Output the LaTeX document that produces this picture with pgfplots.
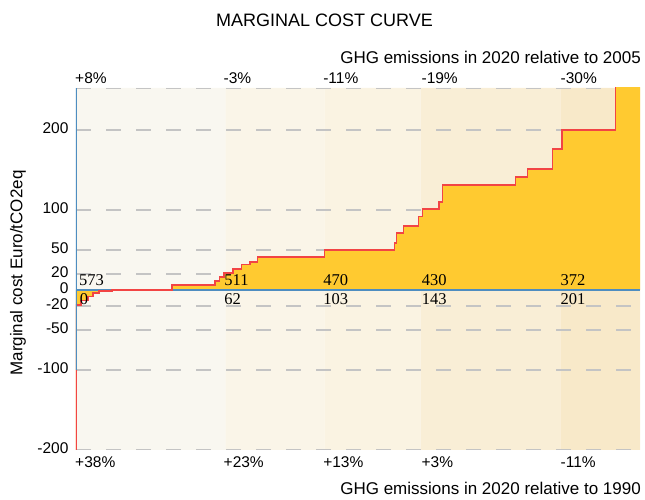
\documentclass[border=0pt]{standalone}
\usepackage{fontspec}
\setmainfont{Liberation Sans}
\newfontfamily\numfont{Liberation Serif}
\usepackage{pgfplots}
\pgfplotsset{compat=1.18}
\definecolor{bandA}{HTML}{F9F7F0}
\definecolor{bandB}{HTML}{FAF5E8}
\definecolor{bandC}{HTML}{FAF3E2}
\definecolor{bandD}{HTML}{F9EED6}
\definecolor{bandE}{HTML}{F8E9C9}
\definecolor{gold}{HTML}{FFCA30}
\definecolor{curvered}{HTML}{F24444}
\definecolor{axblue}{HTML}{4E8DC0}
\definecolor{gridgray}{HTML}{C4C4C4}
\newcommand{\tickfont}{\fontsize{15.5}{18}\selectfont}
\newcommand{\inner}{\numfont\fontsize{16.5}{18}\selectfont}
\pgfplotstableread{
x y
0 -200
0 -19
2.1 -13
5.0 -8
7.1 -4
9.6 -1.5
15.0 0
39.8 6
57.7 11
59.5 16
61.5 21
65.2 26
68.6 32
72.1 35
75.2 41
103.0 50
132.1 59
132.9 71
135.8 80
142.0 92
143.7 101
150.7 110
152.0 131
182.3 141
187.3 151
197.7 176
201.6 200
223.8 320
240 320
}\curvedata
\begin{document}
\begin{tikzpicture}
\path[use as bounding box] (0,0) rectangle (645pt,500pt);
\begin{axis}[
  at={(76pt,50pt)}, anchor=south west,
  scale only axis, width=564pt, height=362pt,
  xmin=0, xmax=234, ymin=-200, ymax=252.5,
  clip mode=individual,
  axis line style={draw=none},
  xtick=\empty,
  ytick={-200,-100,-50,-20,0,20,50,100,200},
  yticklabels={-200,-100,-50,-20,0,20,50,100,200},
  major tick length=0pt, tick style={draw=none},
  yticklabel style={font=\tickfont, xshift=-4pt, yshift=2pt},
]
% background bands
\addplot[fill=bandA, draw=none] coordinates {(0,-200) (62,-200) (62,252.5) (0,252.5) (0,-200)};
\addplot[fill=bandB, draw=none] coordinates {(62,-200) (103,-200) (103,252.5) (62,252.5) (62,-200)};
\addplot[fill=bandC, draw=none] coordinates {(103,-200) (143,-200) (143,252.5) (103,252.5) (103,-200)};
\addplot[fill=bandD, draw=none] coordinates {(143,-200) (201,-200) (201,252.5) (143,252.5) (143,-200)};
\addplot[fill=bandE, draw=none] coordinates {(201,-200) (234,-200) (234,252.5) (201,252.5) (201,-200)};
% dashed grid
\pgfplotsinvokeforeach{252,200,100,50,20,-20,-50,-100,-199.5}{
  \addplot[gridgray, line width=1.2pt, dash pattern=on 15pt off 15pt] coordinates {(0,#1) (234,#1)};
}
% filled area
\addplot[const plot, fill=gold, draw=none] table[x=x,y=y] {\curvedata} \closedcycle;
% horizontal axis line
\addplot[axblue, line width=1.3pt] coordinates {(0,0) (234,0)};
% cost curve
\addplot[const plot, curvered, line width=1.5pt] table[x=x,y=y] {\curvedata};
% vertical axis line
\addplot[axblue, line width=1.3pt] coordinates {(0,-100) (0,252.5)};
% inner labels
\node[anchor=south west, inner sep=0pt, font=\inner] at (axis cs:1.2,5) {573};
\node[anchor=south west, inner sep=0pt, font=\inner] at (axis cs:61.5,5) {511};
\node[anchor=south west, inner sep=0pt, font=\inner] at (axis cs:102.5,5) {470};
\node[anchor=south west, inner sep=0pt, font=\inner] at (axis cs:143.4,5) {430};
\node[anchor=south west, inner sep=0pt, font=\inner] at (axis cs:201,5) {372};
\node[anchor=north west, inner sep=0pt, font=\inner] at (axis cs:1.5,-4) {0};
\node[anchor=north west, inner sep=0pt, font=\inner] at (axis cs:61.5,-4) {62};
\node[anchor=north west, inner sep=0pt, font=\inner] at (axis cs:102.5,-4) {103};
\node[anchor=north west, inner sep=0pt, font=\inner] at (axis cs:143.4,-4) {143};
\node[anchor=north west, inner sep=0pt, font=\inner] at (axis cs:201,-4) {201};
% top percentages
\node[anchor=west, inner sep=0pt, font=\tickfont] at (axis cs:-0.4,265) {+8\%};
\node[anchor=west, inner sep=0pt, font=\tickfont] at (axis cs:61.2,265) {-3\%};
\node[anchor=west, inner sep=0pt, font=\tickfont] at (axis cs:102.5,265) {-11\%};
\node[anchor=west, inner sep=0pt, font=\tickfont] at (axis cs:143.3,265) {-19\%};
\node[anchor=west, inner sep=0pt, font=\tickfont] at (axis cs:201,265) {-30\%};
% bottom percentages
\node[anchor=west, inner sep=0pt, font=\tickfont] at (axis cs:-0.4,-215) {+38\%};
\node[anchor=west, inner sep=0pt, font=\tickfont] at (axis cs:61.2,-215) {+23\%};
\node[anchor=west, inner sep=0pt, font=\tickfont] at (axis cs:102.5,-215) {+13\%};
\node[anchor=west, inner sep=0pt, font=\tickfont] at (axis cs:143.3,-215) {+3\%};
\node[anchor=west, inner sep=0pt, font=\tickfont] at (axis cs:201,-215) {-11\%};
\end{axis}
\node[font=\fontsize{18}{21}\selectfont, inner sep=0pt] at (324.5pt,480pt) {MARGINAL COST CURVE};
\node[anchor=east, font=\fontsize{17}{20}\selectfont, inner sep=0pt] at (641pt,443pt) {GHG emissions in 2020 relative to 2005};
\node[anchor=east, font=\fontsize{17}{20}\selectfont, inner sep=0pt] at (641pt,12pt) {GHG emissions in 2020 relative to 1990};
\node[rotate=90, font=\fontsize{17}{20}\selectfont, inner sep=0pt] at (18pt,227pt) {Marginal cost Euro/tCO2eq};
\end{tikzpicture}
\end{document}
